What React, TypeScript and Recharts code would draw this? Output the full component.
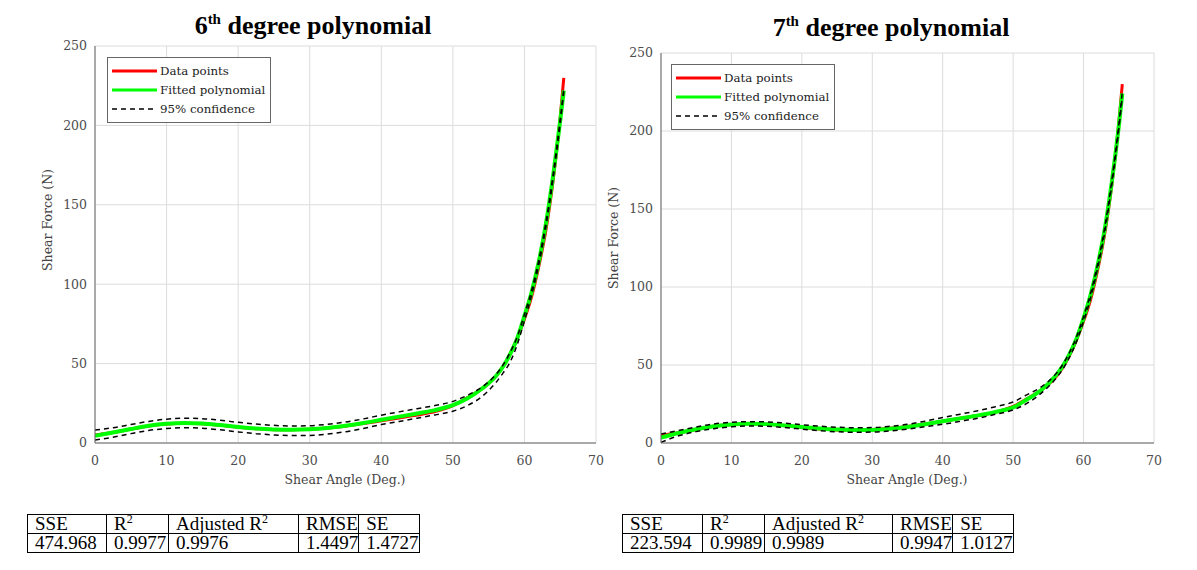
import React from 'react';
import { LineChart, Line, XAxis, YAxis, CartesianGrid, Legend } from 'recharts';

// shear angle samples (deg)
const angle = [0, 2.5, 5, 7.5, 10, 12.5, 15, 17.5, 20, 22.5, 25, 27.5, 30, 32.5, 35, 37.5, 40, 42.5, 45, 47.5, 50, 52, 54, 56, 57, 58, 59, 60, 61, 62, 63, 64, 65, 65.5];

// measured shear force (N)
const dataPoints = [5.0, 6.6, 8.7, 10.7, 11.9, 12.4, 12.1, 11.1, 9.9, 9.0, 8.4, 8.3, 8.6, 9.4, 10.6, 12.2, 14.0, 15.8, 17.6, 19.8, 23.5, 28.5, 34, 42, 48, 56, 66, 78, 92, 111, 134, 165, 205, 230];

// 6th degree fit
const fit6 = [4.6, 6.6, 8.8, 10.8, 12.1, 12.6, 12.3, 11.3, 10.1, 9.1, 8.5, 8.3, 8.6, 9.5, 10.9, 12.6, 14.6, 16.6, 18.6, 20.7, 23.8, 28, 34, 42, 48, 56, 66, 80, 95, 114, 138, 168, 203, 222];
const upper6 = [8.2, 9.6, 11.6, 13.6, 15.0, 15.6, 15.3, 14.3, 13.0, 11.9, 11.1, 10.7, 10.9, 11.8, 13.2, 15.2, 17.5, 19.6, 21.6, 23.6, 26.2, 30, 35, 43, 49, 57, 67, 81, 96, 115, 139, 169, 204, 223];
const lower6 = [1.9, 3.6, 5.9, 7.9, 9.1, 9.6, 9.3, 8.3, 7.0, 5.9, 5.1, 4.7, 4.8, 5.6, 7.1, 9.2, 11.6, 13.6, 15.6, 17.7, 20.0, 23.5, 29, 38, 44, 51, 62, 77, 93, 112, 136, 166, 201, 221];

// 7th degree fit
const fit7 = [3.4, 6.4, 8.8, 10.7, 11.9, 12.3, 12.1, 11.3, 10.2, 9.3, 8.6, 8.3, 8.4, 9.1, 10.3, 12.0, 13.9, 15.8, 17.7, 19.9, 22.8, 28, 34, 43, 49, 57, 67, 80, 95, 114, 137, 167, 203, 224];
const upper7 = [5.8, 8.0, 10.3, 12.2, 13.3, 13.7, 13.5, 12.8, 11.7, 10.8, 10.1, 9.8, 9.9, 10.7, 12.0, 14.0, 16.3, 18.5, 20.7, 23.3, 26.3, 31, 36, 44, 50, 58, 68, 81, 96, 115, 138, 168, 204, 225];
const lower7 = [0.4, 4.6, 7.3, 9.2, 10.4, 10.9, 10.7, 9.9, 8.9, 7.9, 7.2, 6.9, 7.0, 7.7, 8.9, 10.5, 12.0, 13.9, 15.9, 18.4, 21.2, 25.5, 32, 41, 47, 55, 65, 78, 93, 112, 135, 165, 201, 222];

const xTicks = [0, 10, 20, 30, 40, 50, 60, 70];
const yTicks = [0, 50, 100, 150, 200, 250];
const legendOrder = ['data', 'fit', 'upper'];

const statNames = ['SSE', 'R2', 'Adjusted R2', 'RMSE', 'SE'];
const stats6 = ['474.968', '0.9977', '0.9976', '1.4497', '1.4727'];
const stats7 = ['223.594', '0.9989', '0.9989', '0.9947', '1.0127'];

const tickFont = { fontFamily: 'DejaVu Serif', fontSize: 12.5, fill: '#4d4d4d' };

function buildRows(fit: number[], upper: number[], lower: number[]) {
  return angle.map((x, i) => ({ x, data: dataPoints[i], fit: fit[i], upper: upper[i], lower: lower[i] }));
}

function FitLegend(props: any) {
  const items = (props.payload || [])
    .filter((p: any) => legendOrder.includes(p.dataKey))
    .sort((a: any, b: any) => legendOrder.indexOf(a.dataKey) - legendOrder.indexOf(b.dataKey));
  return (
    <div style={{ border: '1px solid #666', background: '#fff', padding: '3px 0 4px 0', width: 164, boxSizing: 'border-box' }}>
      {items.map((p: any) => (
        <div key={p.dataKey} style={{ display: 'flex', alignItems: 'center', height: 19 }}>
          <svg width={52} height={10} style={{ flex: 'none' }}>
            <line x1={4} x2={49} y1={5} y2={5} stroke={p.color}
              strokeWidth={p.dataKey === 'upper' ? 1.5 : 3}
              strokeDasharray={p.dataKey === 'upper' ? '5 4' : undefined} />
          </svg>
          <span style={{ fontFamily: 'DejaVu Serif', fontSize: 11.8, color: '#222', whiteSpace: 'nowrap' }}>{p.value}</span>
        </div>
      ))}
    </div>
  );
}

function FitChart({ rows, left, width, margin, legendPos }: any) {
  return (
    <div style={{ position: 'absolute', left, top: 0 }}>
      <LineChart width={width} height={480} data={rows} margin={margin}>
        <CartesianGrid stroke="#dcdcdc" />
        <XAxis dataKey="x" type="number" domain={[0, 70]} ticks={xTicks} tick={tickFont}
          tickLine={false} tickSize={6} tickMargin={7} height={25} stroke="#666" allowDataOverflow />
        <YAxis type="number" domain={[0, 250]} ticks={yTicks} tick={tickFont}
          tickLine={false} tickSize={6} tickMargin={2} width={40} stroke="#666" />
        <Legend content={FitLegend} layout="vertical" align="center" verticalAlign="middle"
          wrapperStyle={{ left: legendPos[0], top: legendPos[1], width: 'auto' }} />
        <Line type="monotone" dataKey="data" name="Data points" stroke="#ff0000" strokeWidth={3} dot={false} isAnimationActive={false} />
        <Line type="monotone" dataKey="fit" name="Fitted polynomial" stroke="#00ff00" strokeWidth={4} dot={false} isAnimationActive={false} />
        <Line type="monotone" dataKey="upper" name="95% confidence" stroke="#000" strokeWidth={1.5} strokeDasharray="5 4" dot={false} isAnimationActive={false} />
        <Line type="monotone" dataKey="lower" name="95% confidence" stroke="#000" strokeWidth={1.5} strokeDasharray="5 4" dot={false} legendType="none" isAnimationActive={false} />
      </LineChart>
    </div>
  );
}

function StatTable({ values, left, widths }: any) {
  const cell: React.CSSProperties = { border: '1px solid #000', padding: '0 0 0 7px', height: 18, lineHeight: '18px', textAlign: 'left', fontWeight: 'normal' };
  return (
    <table style={{ position: 'absolute', left, top: 514, borderCollapse: 'collapse', fontFamily: 'Liberation Serif', fontSize: 19, color: '#000' }}>
      <tbody>
        <tr>
          {statNames.map((n, i) => (
            <td key={n} style={{ ...cell, width: widths[i] - 8 }}>
              {n.endsWith('R2') ? <>{n.slice(0, -1)}<sup style={{ fontSize: 12, lineHeight: 0 }}>2</sup></> : n}
            </td>
          ))}
        </tr>
        <tr>
          {values.map((v: string, i: number) => <td key={i} style={cell}>{v}</td>)}
        </tr>
      </tbody>
    </table>
  );
}

const titleStyle: React.CSSProperties = { position: 'absolute', fontFamily: 'Liberation Serif', fontWeight: 'bold', fontSize: 26, transform: 'translateX(-50%)', whiteSpace: 'nowrap', lineHeight: '30px' };
const axisTitle: React.CSSProperties = { position: 'absolute', fontFamily: 'DejaVu Serif', fontSize: 12.5, color: '#444', whiteSpace: 'nowrap' };

export default function App() {
  return (
    <div style={{ position: 'absolute', left: 0, top: 0, width: 1197, height: 570, background: '#fff', overflow: 'hidden' }}>
      <div style={{ ...titleStyle, left: 313, top: 4 }}>6<sup style={{ fontSize: 15 }}>th</sup> degree polynomial</div>
      <div style={{ ...titleStyle, left: 891, top: 6 }}>7<sup style={{ fontSize: 15 }}>th</sup> degree polynomial</div>

      <FitChart rows={buildRows(fit6, upper6, lower6)} left={0} width={610}
        margin={{ top: 46, right: 14, left: 55, bottom: 12 }} legendPos={[107, 57]} />
      <FitChart rows={buildRows(fit7, upper7, lower7)} left={600} width={570}
        margin={{ top: 53, right: 16, left: 21, bottom: 12 }} legendPos={[71, 64]} />

      <div style={{ ...axisTitle, left: 345, top: 479, transform: 'translate(-50%, -50%)' }}>Shear Angle (Deg.)</div>
      <div style={{ ...axisTitle, left: 907, top: 479, transform: 'translate(-50%, -50%)' }}>Shear Angle (Deg.)</div>
      <div style={{ ...axisTitle, left: 47, top: 220, transform: 'translate(-50%, -50%) rotate(-90deg)' }}>Shear Force (N)</div>
      <div style={{ ...axisTitle, left: 613, top: 238, transform: 'translate(-50%, -50%) rotate(-90deg)' }}>Shear Force (N)</div>

      <StatTable values={stats6} left={27} widths={[79, 62, 130, 58, 56]} />
      <StatTable values={stats7} left={622} widths={[80, 62, 128, 58, 58]} />
    </div>
  );
}
